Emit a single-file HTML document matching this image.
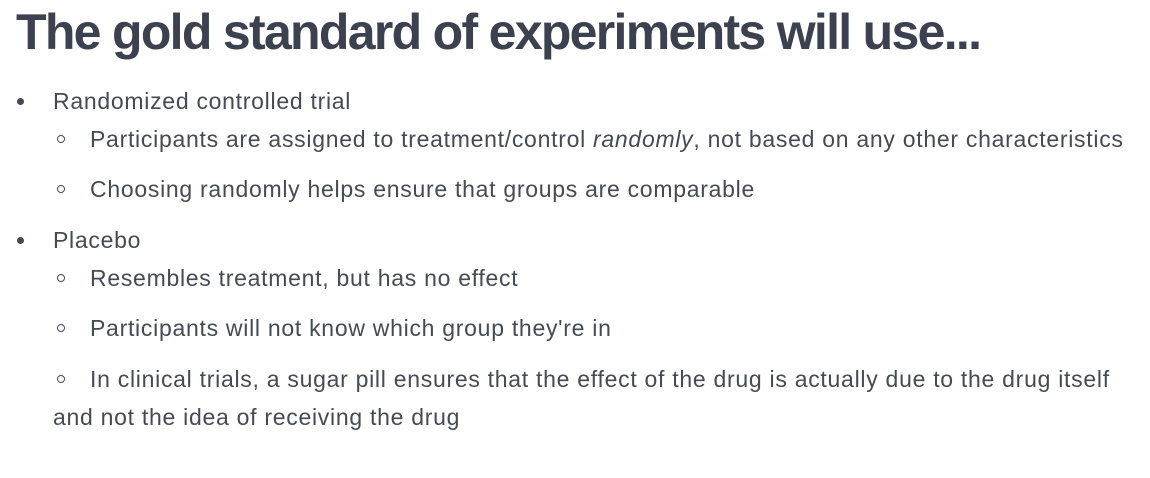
<!DOCTYPE html>
<html><head><meta charset="utf-8"><style>
html,body{margin:0;padding:0;background:#fff;width:1150px;height:478px;overflow:hidden}
body{font-family:"Liberation Sans",sans-serif;color:#3f4350;position:relative}
.t{position:absolute;white-space:nowrap}
h1{position:absolute;left:16px;top:3px;margin:0;font-size:50px;font-weight:bold;color:#3c4150;letter-spacing:-1.7px;white-space:nowrap}
.l{font-size:23px;line-height:26px;color:#454a55;letter-spacing:0.72px}
.dot{position:absolute;width:7px;height:7px;border-radius:50%;background:#454a55}
.circ{position:absolute;width:6px;height:6px;border-radius:50%;border:1.6px solid #454a55}
</style></head><body>
<h1>The gold standard of experiments will use...</h1>

<div class="dot" style="left:17px;top:98px"></div>
<div class="t l" style="left:53px;top:88px">Randomized controlled trial</div>

<div class="circ" style="left:57px;top:135px"></div>
<div class="t l" style="left:90px;top:126px">Participants are assigned to treatment/control <i>randomly</i>, not based on any other characteristics</div>

<div class="circ" style="left:57px;top:185px"></div>
<div class="t l" style="left:90px;top:176px">Choosing randomly helps ensure that groups are comparable</div>

<div class="dot" style="left:17px;top:237px"></div>
<div class="t l" style="left:53px;top:227px">Placebo</div>

<div class="circ" style="left:57px;top:274px"></div>
<div class="t l" style="left:90px;top:265px">Resembles treatment, but has no effect</div>

<div class="circ" style="left:57px;top:324px"></div>
<div class="t l" style="left:90px;top:315px">Participants will not know which group they're in</div>

<div class="circ" style="left:57px;top:375px"></div>
<div class="t l" style="left:90px;top:366px">In clinical trials, a sugar pill ensures that the effect of the drug is actually due to the drug itself</div>
<div class="t l" style="left:53px;top:404px">and not the idea of receiving the drug</div>
</body></html>
